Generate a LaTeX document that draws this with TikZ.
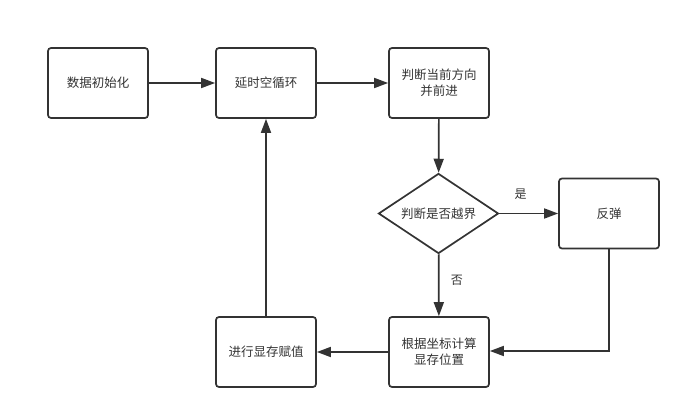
\documentclass[tikz,border=0pt]{standalone}
\usepackage{fontspec}
\setmainfont{Noto Sans CJK SC}
\usetikzlibrary{arrows.meta,shapes.geometric}
\begin{document}
\begin{tikzpicture}[x=1pt,y=-1pt,
  box/.style={draw=black!80,line width=1.7pt,rounded corners=3pt,minimum width=100pt,minimum height=70pt,inner sep=0pt,align=center,font=\fontsize{12.5}{16}\selectfont,text=black!80},
  dia/.style={draw=black!80,line width=1.7pt,diamond,aspect=1.5,minimum width=120pt,minimum height=80pt,inner sep=0pt,font=\fontsize{12.5}{16}\selectfont,text=black!80},
  conn/.style={draw=black!80,line width=1.7pt,-{Triangle[length=14pt,width=10pt]}},
  lbl/.style={font=\fontsize{12}{14}\selectfont,text=black!80}]
\useasboundingbox (0,0) rectangle (691,419);
\node[box] (init) at (98,83) {数据初始化};
\node[box] (loop) at (266,83) {延时空循环};
\node[box] (move) at (439,83) {判断当前方向\\并前进};
\node[dia] (check) at (438.5,213.5) {判断是否越界};
\node[box] (bounce) at (609,213.5) {反弹};
\node[box] (calc) at (439,352) {根据坐标计算\\显存位置};
\node[box] (assign) at (266,352) {进行显存赋值};
\coordinate (corner) at (609,351);
\draw[conn] (init) -- (loop);
\draw[conn] (loop) -- (move);
\draw[conn] (move) -- (check);
\draw[conn] (check) -- node[lbl,above=10pt,pos=0.36]{是} (bounce);
\draw[conn] (check) -- node[lbl,right=8pt,pos=0.42]{否} (calc);
\draw[conn] (bounce.south) -- (corner) -- (calc.east |- corner);
\draw[conn] (calc.west |- assign) -- (assign);
\draw[conn] (assign) -- (loop);
\end{tikzpicture}
\end{document}
